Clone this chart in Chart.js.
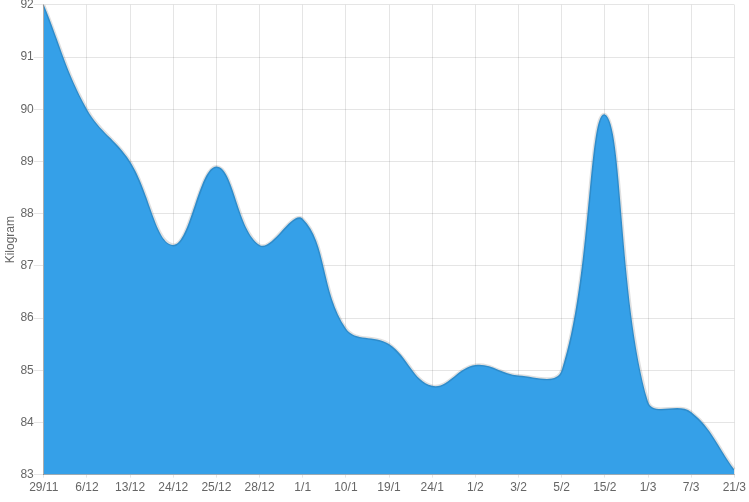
<!DOCTYPE html>
<html>
<head>
<meta charset="utf-8">
<script src="https://cdn.jsdelivr.net/npm/chart.js@4"></script>
<style>
  html, body { margin: 0; padding: 0; background: #fff; }
</style>
</head>
<body>
<canvas id="weight_chart" width="749" height="502"></canvas>
<script>
// CHART DATA
const dates = ["29/11", "6/12", "13/12", "24/12", "25/12", "28/12", "1/1", "10/1", "19/1",
  "24/1", "1/2", "3/2", "5/2", "15/2", "1/3", "7/3", "21/3"];
const weight_list = [92, 90.0, 89.0, 87.4, 88.9, 87.4, 87.9, 85.8, 85.5,
  84.7, 85.1, 84.9, 85.0, 89.9, 84.4, 84.2, 83.1];
const y_min = 83, y_max = 92;

Chart.defaults.font.family = "Arial, 'Liberation Sans', sans-serif";
Chart.defaults.font.size = 12;
Chart.defaults.color = "#666";

const ctx = document.getElementById("weight_chart").getContext("2d");

new Chart(ctx, {
  type: "line",
  data: {
    labels: dates,
    datasets: [{
      label: "Weight",
      data: weight_list,
      fill: true,
      backgroundColor: "rgb(53,160,232)",
      borderColor: "rgba(0,0,0,0.12)",
      borderWidth: 3,
      pointRadius: 0,
      tension: 0.4
    }]
  },
  options: {
    responsive: false,
    animation: false,
    layout: { padding: { top: 0, right: 14, bottom: 4, left: 0 } },
    plugins: { legend: { display: false }, tooltip: { enabled: false } },
    scales: {
      x: {
        offset: false,
        grid: { color: "rgba(0,0,0,0.1)", tickLength: 3 },
        border: { color: "rgba(0,0,0,0.25)" },
        ticks: { maxRotation: 0, autoSkip: false, padding: 3 }
      },
      y: {
        min: y_min,
        max: y_max,
        grid: { color: "rgba(0,0,0,0.1)", tickLength: 10 },
        border: { color: "rgba(0,0,0,0.25)" },
        ticks: { stepSize: 1, padding: 0, font: { lineHeight: 0.8 } },
        title: { display: true, text: "Kilogram", padding: 3 }
      }
    }
  }
});
</script>
</body>
</html>
